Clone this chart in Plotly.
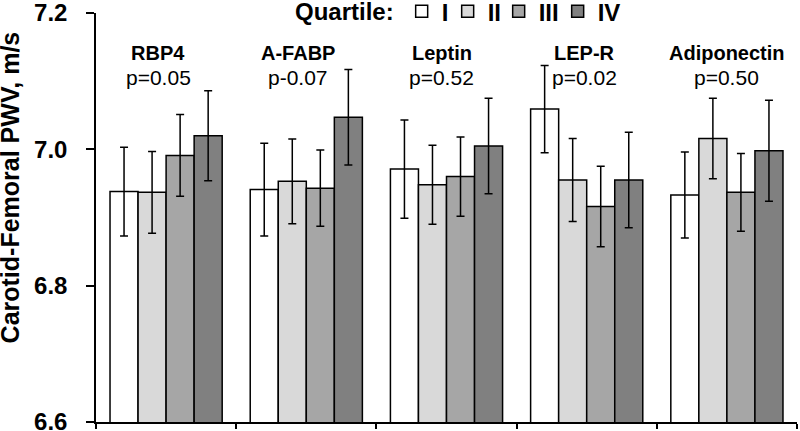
import plotly.graph_objects as go

# Adipokine groups and quartile means of carotid-femoral PWV (m/s)
markers = ["RBP4", "A-FABP", "Leptin", "LEP-R", "Adiponectin"]
p_values = ["p=0.05", "p-0.07", "p=0.52", "p=0.02", "p=0.50"]
quartiles = ["I", "II", "III", "IV"]

q1_mean = [6.938, 6.941, 6.971, 7.059, 6.933]
q2_mean = [6.937, 6.953, 6.948, 6.955, 7.016]
q3_mean = [6.991, 6.943, 6.960, 6.916, 6.937]
q4_mean = [7.020, 7.047, 7.005, 6.955, 6.998]

q1_err = [0.065, 0.068, 0.072, 0.064, 0.063]
q2_err = [0.060, 0.062, 0.058, 0.061, 0.059]
q3_err = [0.060, 0.056, 0.058, 0.059, 0.057]
q4_err = [0.066, 0.070, 0.070, 0.070, 0.074]

y_ticks = [6.6, 6.8, 7.0, 7.2]

means = [q1_mean, q2_mean, q3_mean, q4_mean]
errors = [q1_err, q2_err, q3_err, q4_err]
colors = ["#FFFFFF", "#D9D9D9", "#A6A6A6", "#808080"]
legend_widths = [1, 6, 14, 30]

FONT = "Arial, Liberation Sans, sans-serif"

fig = go.Figure()

for name, ys, es, col, lw in zip(quartiles, means, errors, colors, legend_widths):
    fig.add_trace(
        go.Bar(
            x=markers,
            y=ys,
            name=f"<b>{name}</b>",
            legendwidth=lw,
            marker=dict(color=col, line=dict(color="black", width=1.5)),
            error_y=dict(type="data", array=es, color="black", thickness=1.5, width=4),
        )
    )

# group labels and p-values above each cluster
label_shift = [-8, -8, -5, -2, 0]
for m, p, dx in zip(markers, p_values, label_shift):
    fig.add_annotation(x=m, y=7.142, text=f"<b>{m}</b>", showarrow=False,
                       xshift=dx, font=dict(family=FONT, size=20, color="black"))
    fig.add_annotation(x=m, y=7.105, text=p, showarrow=False,
                       xshift=dx, font=dict(family=FONT, size=21, color="black"))

# y-axis title sits a bit above the middle of the axis in the original
fig.add_annotation(
    text="<b>Carotid-Femoral PWV, m/s</b>",
    textangle=-90,
    xref="paper", yref="paper",
    x=-0.123, y=0.573,
    xanchor="center", yanchor="middle",
    showarrow=False,
    font=dict(family=FONT, size=25, color="black"),
)

fig.update_layout(
    width=800,
    height=431,
    margin=dict(l=96, r=3, t=13, b=9, autoexpand=False),
    paper_bgcolor="white",
    plot_bgcolor="white",
    barmode="group",
    bargap=0.2,
    bargroupgap=0,
    font=dict(family=FONT, color="black"),
    legend=dict(
        orientation="h",
        title=dict(text="<b>Quartile:</b>", font=dict(size=24)),
        font=dict(size=24),
        x=0.281,
        xanchor="left",
        y=1.003,
        yanchor="middle",
        itemwidth=30,
        bgcolor="rgba(0,0,0,0)",
    ),
    xaxis=dict(
        showticklabels=False,
        showline=True,
        linecolor="black",
        linewidth=1.5,
        ticks="outside",
        tickson="boundaries",
        ticklen=5,
        tickwidth=1.5,
        tickcolor="black",
    ),
    yaxis=dict(
        range=[6.6, 7.2],
        tickvals=y_ticks,
        ticktext=[f"<b>{t:.1f}</b>" for t in y_ticks],
        tickfont=dict(size=24, family=FONT),
        ticklabelstandoff=14,
        ticklabeloverflow="allow",
        showline=True,
        linecolor="black",
        linewidth=1.5,
        ticks="outside",
        ticklen=8,
        tickwidth=1.5,
        tickcolor="black",
        showgrid=False,
        zeroline=False,
        automargin=False,
    ),
)

fig.write_html(
    "out.html",
    config={"displayModeBar": False},
    post_script="document.body.style.margin='0';",
)
